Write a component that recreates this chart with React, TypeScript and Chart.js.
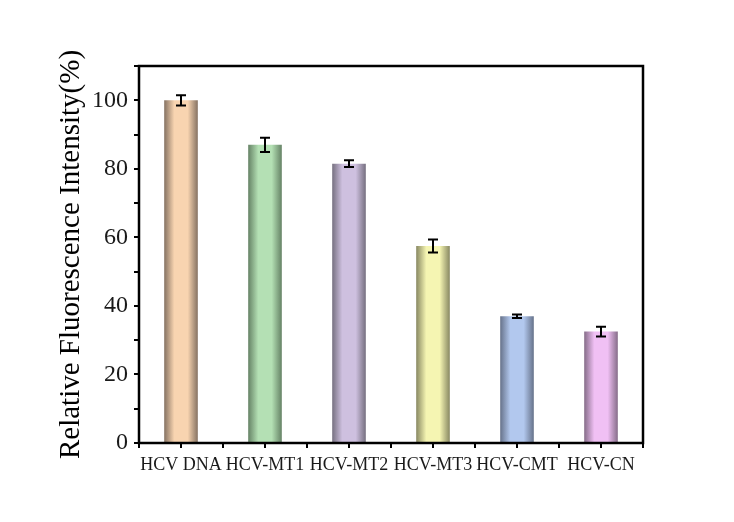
import React, { useEffect, useRef } from 'react';
import { Chart, registerables } from 'chart.js';

Chart.register(...registerables);

const categories = ['HCV DNA', 'HCV-MT1', 'HCV-MT2', 'HCV-MT3', 'HCV-CMT', 'HCV-CN'];
const values = [100, 87, 81.5, 57.5, 37, 32.5];
const errors = [1.5, 2.1, 1.0, 1.9, 0.5, 1.4];
const yTickLabels = [0, 20, 40, 60, 80, 100];
const barColors = ['#f8d4b0', '#b4e0b4', '#cec0df', '#f5f5b2', '#b2c8ee', '#f0c0f4'];
const edgeColors = ['#857262', '#658265', '#767080', '#888862', '#66728a', '#856c88'];

const FONT = "'Liberation Serif', 'Times New Roman', serif";
const BAR_FRACTION = 0.4;

const decorPlugin = {
  id: 'decor',
  afterDatasetsDraw(chart: any) {
    const { ctx, chartArea, scales } = chart;
    const xs = scales.x;
    const ys = scales.y;
    ctx.save();
    // error bars
    ctx.strokeStyle = '#000';
    ctx.lineWidth = 2;
    values.forEach((v, i) => {
      const x = xs.getPixelForValue(i);
      const yTop = ys.getPixelForValue(v + errors[i]);
      const yBot = ys.getPixelForValue(v - errors[i]);
      ctx.beginPath();
      ctx.moveTo(x, yTop);
      ctx.lineTo(x, yBot);
      ctx.moveTo(x - 5, yTop);
      ctx.lineTo(x + 5, yTop);
      ctx.moveTo(x - 5, yBot);
      ctx.lineTo(x + 5, yBot);
      ctx.stroke();
    });
    // minor x ticks at category boundaries
    const step = xs.getPixelForValue(1) - xs.getPixelForValue(0);
    ctx.lineWidth = 2;
    for (let i = 0; i <= categories.length; i++) {
      const x = Math.round(xs.getPixelForValue(0) - step / 2 + i * step);
      ctx.beginPath();
      ctx.moveTo(x, chartArea.bottom);
      ctx.lineTo(x, chartArea.bottom + 5);
      ctx.stroke();
    }
    // frame
    ctx.lineWidth = 2.5;
    ctx.strokeRect(chartArea.left, chartArea.top, chartArea.right - chartArea.left, chartArea.bottom - chartArea.top);
    ctx.restore();
  },
};

function barFill(c: any) {
  const i = c.dataIndex;
  const chart = c.chart;
  const xs = chart.scales && chart.scales.x;
  if (!xs || !chart.chartArea || i === undefined) return barColors[i ?? 0];
  const step = xs.getPixelForValue(1) - xs.getPixelForValue(0);
  const w = step * BAR_FRACTION;
  const cx = xs.getPixelForValue(i);
  const g = chart.ctx.createLinearGradient(cx - w / 2, 0, cx + w / 2, 0);
  g.addColorStop(0, edgeColors[i]);
  g.addColorStop(0.3, barColors[i]);
  g.addColorStop(0.5, barColors[i]);
  g.addColorStop(0.7, barColors[i]);
  g.addColorStop(1, edgeColors[i]);
  return g;
}

export default function App() {
  const ref = useRef<HTMLCanvasElement>(null);
  useEffect(() => {
    if (!ref.current) return;
    const chart = new Chart(ref.current, {
      type: 'bar',
      data: {
        labels: categories,
        datasets: [
          {
            data: values,
            backgroundColor: barFill as any,
            borderWidth: 0,
            barPercentage: BAR_FRACTION,
            categoryPercentage: 1,
          },
        ],
      },
      options: {
        animation: false,
        responsive: true,
        maintainAspectRatio: false,
        layout: { padding: { top: 58, right: 83, left: 0, bottom: 0 } },
        plugins: { legend: { display: false }, tooltip: { enabled: false } },
        scales: {
          x: {
            afterFit: (s: any) => { s.height = 71; },
            grid: {
              offset: false,
              drawOnChartArea: false,
              drawTicks: true,
              tickLength: 5,
              color: '#000',
              lineWidth: 2,
            },
            border: { display: false },
            ticks: {
              autoSkip: false,
              maxRotation: 0,
              minRotation: 0,
              padding: 6,
              color: '#1a1a1a',
              font: { family: FONT, size: 18 },
            },
          },
          y: {
            min: 0,
            max: 110,
            afterFit: (s: any) => { s.width = 131; },
            grid: {
              drawOnChartArea: false,
              drawTicks: true,
              tickLength: 5,
              color: '#000',
              lineWidth: 2,
            },
            border: { display: false },
            ticks: {
              stepSize: 10,
              padding: 6,
              color: '#1a1a1a',
              font: { family: FONT, size: 24 },
              callback: (v: any) => (yTickLabels.includes(Number(v)) ? String(v) : ''),
            },
            title: {
              display: true,
              text: 'Relative Fluorescence Intensity(%)',
              color: '#000',
              font: { family: FONT, size: 29 },
              padding: { top: 46, bottom: 0 },
            },
          },
        },
      },
      plugins: [decorPlugin],
    });
    return () => chart.destroy();
  }, []);
  return (
    <div style={{ width: 718, height: 506, background: '#fff' }}>
      <canvas ref={ref} />
    </div>
  );
}
